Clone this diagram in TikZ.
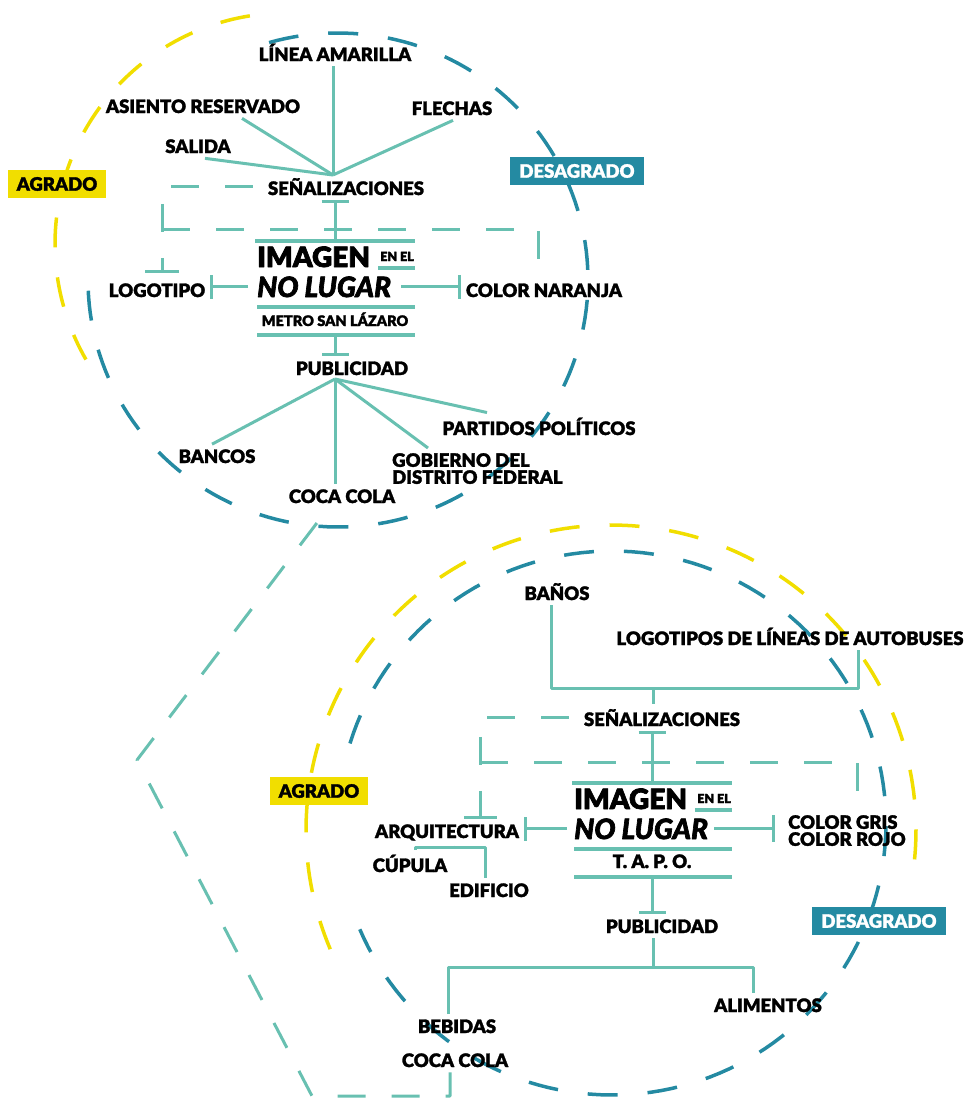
\documentclass[tikz,border=0pt]{standalone}
\usepackage{fontspec}
\setmainfont{Lato}
\newfontfamily\blk{Lato Black}[FakeBold=1.6]
\newfontfamily\blkt{Lato Black}[FakeBold=2.4]
\usetikzlibrary{arrows.meta}

\definecolor{verde}{RGB}{104,192,177}
\definecolor{azul}{RGB}{36,138,162}
\definecolor{amar}{RGB}{241,222,0}

\tikzset{
  lbl/.style={font=\blk\fontsize{18.5}{20}\selectfont, inner sep=5pt, anchor=base},
  lbl2/.style={lbl, align=left, anchor=north west, font=\blk\fontsize{18.5}{17}\selectfont},
  tit/.style={inner sep=0pt, font=\blkt\fontsize{28}{28}\selectfont},
  ln/.style={draw=verde, line width=3pt},
  lnd/.style={ln, dash pattern=on 28pt off 26pt},
  tope/.style={-{Bar[width=#1]}},
  barra/.style={draw=verde, line width=3.5pt},
  circ/.style={line width=3.5pt, dash pattern=on 30pt off 30pt},
  caja/.style={font=\blk\fontsize{18.5}{20}\selectfont, minimum height=28pt, inner xsep=9pt},
}

\begin{document}
\begin{tikzpicture}[x=1pt, y=-1pt, line join=round]
\useasboundingbox (0,0) rectangle (971,1100);

% circulos agrado / desagrado
\draw[circ, azul] plot[domain=-106:184, samples=150] ({338+250*cos(\x)},{280+247*sin(\x)});
\draw[circ, amar] plot[domain=261:150, samples=80] ({286+231*cos(\x)},{244+231*sin(\x)});
\draw[circ, azul] plot[domain=197:517, samples=150] ({612+274*cos(\x)},{823+272*sin(\x)});
\draw[circ, amar] plot[domain=157:367, samples=150] ({611+305*cos(\x)},{830+305*sin(\x)});

% titulos
\foreach \x/\y/\k/\sub in {257/241/1/{\fontsize{14.5}{15}\selectfont METRO SAN LÁZARO},
                           574/783/2/{\fontsize{18.5}{19}\selectfont T. A. P. O.}}{
  \draw[barra] (\x-2,\y)--(\x+158,\y) (\x+121,\y+27)--(\x+158,\y+27)
               (\x,\y+66)--(\x+158,\y+66) (\x,\y+94)--(\x+158,\y+94);
  \node[tit, anchor=base west] (img\k) at (\x,\y+26) {IMAGEN};
  \node[tit, font=\blkt\fontsize{12.5}{12}\selectfont, anchor=base east] (enel\k) at (\x+157,\y+20) {EN EL};
  \node[tit, font=\blkt\itshape\fontsize{28}{28}\selectfont, anchor=base west] (nol\k) at (\x,\y+56) {NO LUGAR};
  \node[tit, font=\blk, anchor=base] (sub\k) at (\x+78,\y+85) {\sub};
  \coordinate (arr\k) at (\x+78,\y);
  \coordinate (aba\k) at (\x+78,\y+94);
}

% metro san lazaro
\node[lbl] (linea) at (335,61) {LÍNEA AMARILLA};
\node[lbl] (asiento) at (203,113) {ASIENTO RESERVADO};
\node[lbl] (flechas) at (452,115) {FLECHAS};
\node[lbl] (salida) at (198,153) {SALIDA};
\node[lbl] (senal1) at (346,195) {SEÑALIZACIONES};
\node[lbl] (logo1) at (157,297) {LOGOTIPO};
\node[lbl] (naranja) at (544,297) {COLOR NARANJA};
\node[lbl] (publi1) at (352,375) {PUBLICIDAD};
\node[lbl] (bancos) at (217,463) {BANCOS};
\node[lbl] (coca1) at (342,503) {COCA COLA};
\node[lbl] (partidos) at (539,435) {PARTIDOS POLÍTICOS};
\node[lbl2] (gobierno) at (387,448) {GOBIERNO DEL\\DISTRITO FEDERAL};

\coordinate (hub1) at (333,175);
\draw[ln] (hub1) -- (hub1 |- linea.south);
\draw[ln] (hub1) -- ([xshift=39pt]asiento.south);
\draw[ln] (hub1) -- ([xshift=7pt]salida.south);
\draw[ln] (hub1) -- ([xshift=1pt]flechas.south);
\draw[ln, tope=27pt] (arr1) -- (arr1 |- senal1.south);
\draw[ln, tope=24pt] ([xshift=-9pt]nol1.west) -- (nol1.west -| logo1.east);
\draw[ln, tope=24pt] ([xshift=10pt]nol1.east) -- (nol1.east -| naranja.west);
\draw[ln, tope=27pt] (aba1) -- (aba1 |- publi1.north);
\coordinate (hub2) at (335,379);
\draw[ln] (hub2) -- ([xshift=-5pt]bancos.north);
\draw[ln] (hub2) -- (hub2 |- coca1.north);
\draw[ln] (hub2) -- ([xshift=41pt]gobierno.north west);
\draw[ln] (hub2) -- ([xshift=-52pt]partidos.north);
\draw[lnd, tope=34pt] ([xshift=-10pt]senal1.west) -| ([xshift=5pt,yshift=5pt]logo1.north);
\coordinate (m1) at (162,229);
\coordinate (m2) at (538,229);
\draw[lnd] (m1) -- (m2) -- (m2 |- naranja.north);

% tapo
\node[lbl] (banos) at (557,600) {BAÑOS};
\node[lbl] (logos) at (790,645) {LOGOTIPOS DE LÍNEAS DE AUTOBUSES};
\node[lbl] (senal2) at (662,726) {SEÑALIZACIONES};
\node[lbl] (arq) at (447,838) {ARQUITECTURA};
\node[lbl] (cupula) at (410,872) {CÚPULA};
\node[lbl] (edificio) at (489,897) {EDIFICIO};
\node[lbl2, inner xsep=13pt] (gris) at (775,810) {COLOR GRIS\\COLOR ROJO};
\node[lbl] (publi2) at (662,933) {PUBLICIDAD};
\node[lbl] (alimentos) at (768,1012) {ALIMENTOS};
\node[lbl] (bebidas) at (457,1033) {BEBIDAS};
\node[lbl] (coca2) at (455,1067) {COCA COLA};

\coordinate (j2) at (653,688);
\draw[ln] ([xshift=-6pt]banos.south) |- (j2) -| ([xshift=68pt]logos.south);
\draw[ln] (j2) -- (j2 |- senal2.north);
\draw[ln, tope=27pt] (arr2) -- (arr2 |- senal2.south);
\draw[lnd, tope=33pt] ([xshift=-10pt]senal2.west) -| ([xshift=33pt]arq.north);
\coordinate (m3) at (480,762);
\coordinate (m4) at (857,762);
\draw[lnd] (m3) -- (m4) -- (m4 |- gris.north);
\draw[ln, tope=24pt] ([xshift=-7pt]nol2.west) -- (nol2.west -| arq.east);
\draw[ln, tope=27pt] ([xshift=6pt]nol2.east) -- (nol2.east -| gris.west);
\coordinate (j3) at (453,847);
\draw[ln] (j3 |- arq.south) -- (j3);
\draw[ln] ([xshift=5pt]cupula.north) |- (j3) -| ([xshift=-4pt]edificio.north);
\draw[ln, tope=27pt] (aba2) -- (aba2 |- publi2.north);
\coordinate (j4) at (653,967);
\draw[ln] (j4 |- publi2.south) -- (j4);
\draw[ln] ([xshift=-9pt]bebidas.north) |- (j4) -| ([xshift=-15pt]alimentos.north);
\coordinate (c1) at (312,1096);
\coordinate (c2) at (137,760);
\draw[lnd] ([xshift=-5pt]coca2.south) |- (c1) -- (c2) -- ([xshift=-14pt]coca1.south);

% agrado / desagrado
\node[caja, fill=amar] (agr1) at (57,184) {AGRADO};
\node[caja, fill=azul, text=white] (des1) at (577,171) {DESAGRADO};
\node[caja, fill=amar] (agr2) at (319,791) {AGRADO};
\node[caja, fill=azul, text=white] (des2) at (879,921) {DESAGRADO};
\end{tikzpicture}
\end{document}
